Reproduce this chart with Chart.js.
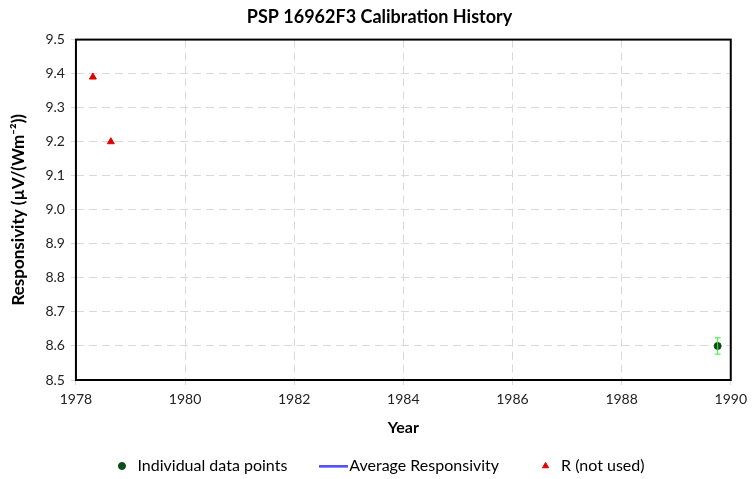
<!DOCTYPE html>
<html>
<head>
<meta charset="utf-8">
<script src="https://cdn.jsdelivr.net/npm/chart.js@4"></script>
<style>
  html, body { margin: 0; padding: 0; background: #fff; }
  #wrap { width: 753px; height: 479px; }
</style>
</head>
<body>
<div id="wrap"><canvas id="calChart"></canvas></div>
<script>
// datos
const pointYears = [1989.76];
const pointValues = [8.60];
const pointErrors = [0.024];
const avgYears = [];
const avgValues = [];
const rYears = [1978.31, 1978.64];
const rValues = [9.39, 9.20];
const xTicks = [1978, 1980, 1982, 1984, 1986, 1988, 1990];
const yTicks = [8.5, 8.6, 8.7, 8.8, 8.9, 9.0, 9.1, 9.2, 9.3, 9.4, 9.5];

const FONT = "Lato, 'Open Sans', sans-serif";

// linea azul para la leyenda
const lineIcon = document.createElement("canvas");
lineIcon.width = 29;
lineIcon.height = 3;
const lctx = lineIcon.getContext("2d");
lctx.fillStyle = "#1a1aff";
lctx.fillRect(0, 0.5, 29, 2);

// barras de error
const errorBars = {
  id: "errorBars",
  afterDatasetsDraw(chart) {
    const { ctx, scales } = chart;
    ctx.save();
    ctx.strokeStyle = "#33ee33";
    ctx.lineWidth = 1;
    pointYears.forEach((yr, i) => {
      const x = scales.x.getPixelForValue(yr);
      const y1 = scales.y.getPixelForValue(pointValues[i] + pointErrors[i]);
      const y2 = scales.y.getPixelForValue(pointValues[i] - pointErrors[i]);
      ctx.beginPath();
      ctx.moveTo(x, y1); ctx.lineTo(x, y2);
      ctx.moveTo(x - 3, y1); ctx.lineTo(x + 3, y1);
      ctx.moveTo(x - 3, y2); ctx.lineTo(x + 3, y2);
      ctx.stroke();
    });
    ctx.restore();
  }
};

// marco negro del area
const frame = {
  id: "frame",
  afterDraw(chart) {
    const { ctx, chartArea: a } = chart;
    ctx.save();
    ctx.strokeStyle = "#000";
    ctx.lineWidth = 2;
    ctx.strokeRect(a.left, a.top, a.right - a.left, a.bottom - a.top);
    ctx.restore();
  }
};

const gridOpts = { color: "#d9d9d9", tickLength: 5, lineWidth: 1, borderDash: [8, 5] };
const borderOpts = { display: false, dash: [8, 5] };

new Chart(document.getElementById("calChart"), {
  type: "scatter",
  data: {
    datasets: [
      {
        label: "Individual data points",
        data: pointYears.map((x, i) => ({ x, y: pointValues[i] })),
        backgroundColor: "#0b4d16",
        borderColor: "#0b4d16",
        pointStyle: "circle",
        pointRadius: 3.5
      },
      {
        label: "Average Responsivity",
        type: "line",
        data: avgYears.map((x, i) => ({ x, y: avgValues[i] })),
        borderColor: "#1a1aff",
        pointStyle: lineIcon,
        borderWidth: 2
      },
      {
        label: "R (not used)",
        data: rYears.map((x, i) => ({ x, y: rValues[i] })),
        backgroundColor: "#e00000",
        borderColor: "#e00000",
        pointStyle: "triangle",
        pointRadius: 4
      }
    ]
  },
  options: {
    responsive: true,
    maintainAspectRatio: false,
    animation: false,
    layout: { padding: { left: 8, right: 2, top: 4, bottom: -5 } },
    plugins: {
      title: {
        display: true,
        text: "PSP 16962F3 Calibration History",
        color: "#000",
        font: { family: FONT, size: 18, weight: "bold" },
        padding: { top: 2, bottom: 12 }
      },
      legend: {
        position: "bottom",
        labels: {
          usePointStyle: true,
          boxHeight: 5,
          boxWidth: 15,
          color: "#000",
          font: { family: FONT, size: 16 },
          padding: 39
        }
      },
      tooltip: { enabled: false }
    },
    scales: {
      x: {
        type: "linear",
        min: 1978,
        max: 1990,
        afterBuildTicks: s => { s.ticks = xTicks.map(v => ({ value: v })); },
        ticks: {
          color: "#222",
          font: { family: FONT, size: 14 },
          callback: v => String(v),
          maxRotation: 0,
          padding: 6
        },
        grid: gridOpts,
        border: borderOpts,
        title: {
          display: true,
          text: "Year",
          color: "#000",
          font: { family: FONT, size: 16, weight: "bold" },
          padding: { top: 4, bottom: -18 }
        }
      },
      y: {
        min: 8.5,
        max: 9.5,
        afterBuildTicks: s => { s.ticks = yTicks.map(v => ({ value: v })); },
        ticks: {
          color: "#222",
          font: { family: FONT, size: 14 },
          callback: v => v.toFixed(1),
          padding: 6
        },
        grid: gridOpts,
        border: borderOpts,
        title: {
          display: true,
          text: "Responsivity (µV/(Wm⁻²))",
          color: "#000",
          font: { family: FONT, size: 17, weight: "bold" },
          padding: { top: 0, bottom: 11 }
        }
      }
    }
  },
  plugins: [errorBars, frame]
});
</script>
</body>
</html>
